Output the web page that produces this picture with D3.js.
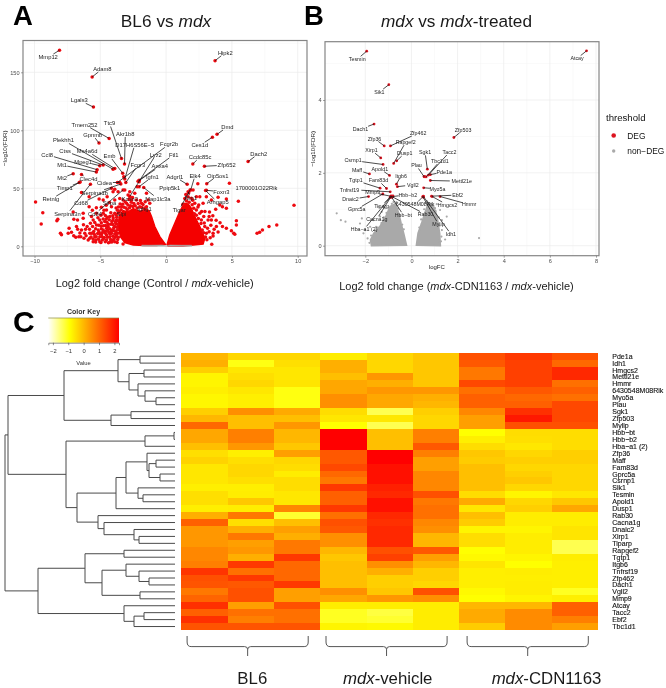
<!DOCTYPE html>
<html><head><meta charset="utf-8">
<script src="https://cdn.jsdelivr.net/npm/d3@7"></script>
<style>html,body{margin:0;padding:0;background:#fff}svg{display:block;filter:blur(0.3px)}text{font-family:"Liberation Sans",Arial,sans-serif}</style>
</head><body><div id="c"></div>
<script>
// ---------- Panel A data: [log2FC, -log10FDR]
const scatterA=[[-9.92,38.2],[-9.37,29],[-9.49,19.3],[-8.3,22.1],[-8.23,23.3],[-8.03,11.2],[-7.95,10],[-7.37,15.5],[-7.19,12.1],[-7.44,11.2],[-7.01,23.3],[-7.06,29.6],[-6.73,22.7],[-6.81,17],[-6.86,7.8],[-6.63,8.3],[-6.48,8.3],[-6.3,24.1],[-6.3,28.4],[-5.85,34.2],[-5.67,25.6],[-5.54,22.7],[-5.59,17],[-6,17],[-5.8,11.2],[-6.18,11.2],[-6.43,14.1],[-5.29,28.4],[-5.04,22.7],[-4.78,28.4],[-4.53,31.3],[-4.15,34.2],[-3.9,39.9],[-4.03,47.1],[-3.9,28.4],[-4.03,22.7],[-4.41,17],[-4.78,14.1],[-5.16,14.1],[-5.42,8.3],[-5.8,6.9],[-5.04,8.3],[-4.53,9.8],[-4.15,11.2],[-3.9,17],[-3.77,22.7],[-3.65,28.4],[-4.28,25.6],[-4.66,21.3],[-5.29,18.4],[-5.67,11.2],[-5.92,5.5],[-5.54,4],[-5.04,4],[-4.53,5.5],[-4.03,5.5],[-3.77,11.2],[-3.9,4],[-3.27,2],[-3.27,39.9],[-2.89,44.3],[-2.63,39.9],[-3.01,37.1],[-3.39,34.2],[-2.25,39.9],[-1.87,37.1],[-2.38,45.7],[-2.2,51.4],[-2.05,55.7],[-1.49,45.7],[-1.37,39.9],[-1.59,38.5],[-1.49,34.2],[-1.24,37.1],[-2.76,47.1],[-3.14,48.6],[-3.22,60],[-3.9,49.1],[-3.65,47.1],[-6.43,46.3],[-5.85,42.8],[-5.09,40.8],[-4.78,39.9],[-4.48,42.8],
[-4.9,10.5],[-4.7,7.5],[-4.3,8],[-4.1,14],[-4.35,12],[-4.2,19],[-3.85,8],[-3.95,13.5],[-4.6,13],[-4.95,17.5],[-5.2,11],[-5.35,5.5],[-5.7,8],[-4.85,5.5],[-4.25,3.8],[-4.45,25],[-4.6,18],[-4.2,29],[-4.55,23.5],[-3.8,33],[-3.5,36.5],[-3.05,33],[-2.7,35],[-2.35,35],[-2,34],[-1.75,36],[-2.55,42],[-3.7,31],
[-5.35,3.6],[-4.95,3.2],[-4.62,3.9],[-4.38,3.1],[-4.12,3.6],[-3.72,3.3],[-5.55,6.3],[-5.14,6.1],[-4.76,6.6],[-4.22,5.9],[-3.95,6.5],[-3.68,5.9],[-5.31,8.2],[-4.88,8.4],[-4.46,7.9],[-4.05,8.6],[-3.78,9.1],[-3.62,7.8],[-5.46,10.4],[-5.02,10.9],[-4.62,11.2],[-4.25,10.3],[-3.9,10.6],[-3.67,11.3],[-5.1,12.6],[-4.82,12.2],[-4.44,13.8],[-4.18,12.9],[-3.84,13],[-3.68,14.2],[-5.36,15.2],[-4.92,15.1],[-4.52,15.6],[-4.28,15.2],[-3.98,15.9],[-3.74,16.4],[-5.12,18.1],[-4.76,17.7],[-4.38,19.1],[-4.05,18.7],[-3.82,19.6],[-3.68,18.8],[-4.92,20.2],[-4.5,20.7],[-4.12,21.3],[-3.86,21.1],[-3.66,21.8],[-4.78,23.6],[-4.32,22.9],[-4.02,24.4],[-3.75,25.1],[-4.62,26.6],[-4.05,26.4],[-3.8,27.2],[-3.55,29.8],[-3.42,31.6],[-3.2,33.6],[-2.95,31.5],[-2.78,33.2],[-2.52,34.3],[-2.2,33],[-1.85,33.4],[-1.62,33],[-3.62,33.8],[-3.3,36.2],[-2.9,35.6],[-2.45,36.9],[-2.12,36.8],[-1.95,39.5],[-2.65,37.9],[-3.12,38.5],[-2.82,40.3],[-3.52,41.2],[-6.08,9.2],[-6.24,6.9],[-6.55,11.5],[-6.12,14.6],[-5.82,14.8],[-5.5,12.8],[-5.75,19.8],[-5.42,20.6],[-5.18,24.6],[-5.6,31],[-5.3,33.2],[-4.92,33.6],[-4.55,35.4],[-4.3,37.8],[-4.72,31],[-4.95,26.7],[-6.72,14.6],[-7.02,9.1],[-6.28,18.6],
[2.05,48.6],[1.67,42.8],[1.92,41.4],[2.3,42.8],[2.56,42.8],[2.41,54],[3.95,42.2],[4.81,54.3],[5.49,38.8],[4.58,40.8],[4.28,34.2],[4.08,35.6],[3.77,31.9],[4.58,32.8],[3.44,39.9],[3.06,42.8],[2.81,37.1],[2.48,35.6],[2.18,37.1],[2.56,28.4],[2.86,25.6],[3.27,25.6],[3.44,22.7],[3.19,22.7],[3.82,17],[4.28,17],[4.58,15.5],[4.96,13.5],[5.14,11.2],[5.34,22.1],[5.34,18.4],[5.22,10.3],[3.47,1.7],[3.57,8.9],[3.27,12.6],[2.94,17],[2.68,22.7],[3.06,11.2],[2.3,31.3],[2.1,32.8],[3.57,11.2],[2.75,14],[2.9,20],[3,8],[2.7,30],[2.45,24],[1.75,38],[2.15,28],
[2.3,26.7],[2.65,19.6],[2.85,11.6],[3.1,5.6],[3.15,15.6],[3.4,18.2],[2.42,33.8],[1.98,35.8],[2.02,39.6],[1.55,39.1],[1.42,41.2],[2.95,30],[3.3,29.6],[3.55,26.4],[3.8,22.5],[4.1,20.2],[3.65,14.6],[3.95,12.4],[3.35,7.4],[1.72,46.2],[1.5,44.6],[1.28,36.2],
[6.91,11.2],[7.11,12.1],[7.32,14.1],[7.82,17],[8.41,18.4],[9.72,35.3]];
const cloudLeftA=[[-0.05,1.7],[-0.48,8.3],[-0.86,17],[-1.11,25.6],[-1.29,30.7],[-1.54,32],[-2,30],[-2.5,32.5],[-2.89,29.6],[-3.27,30.7],[-3.57,25.6],[-3.62,17],[-3.47,8.3],[-3.14,3.2],[-2.5,1.1],[-1.62,0.6],[-0.73,0.6]];
const cloudRightA=[[0.08,1.7],[0.28,9.8],[0.66,19.8],[1.04,29.9],[1.37,37],[1.67,36.5],[1.92,32.8],[2.18,25.6],[2.56,17],[2.94,6.9],[2.81,2],[1.29,0.3],[0.15,0.3]];
const cloudGreyA=[[-1.85,0],[1.95,0],[1.95,0.9],[1.2,0.9],[0.3,1.1],[0,0.3],[-0.3,1.1],[-1.3,0.9],[-1.85,1]];
// name, log2FC, -log10FDR, label log2FC, label -log10FDR
const labelsA=[["Mmp12",-8.1,169,-8.96,163],["Hipk2",3.72,160,4.5,167],["Adam8",-5.62,146,-4.84,153],["Lgals3",-5.52,120,-6.6,126],["Tmem252",-4.33,93,-6.2,105],["Ttc9",-3.39,75.6,-4.3,106],["Akr1b8",-3.16,71,-3.1,97],["Gpnmb",-5.1,89,-5.57,96],["Dmd",3.87,96.5,4.66,103],["Ces1d",3.52,94,2.56,87],["Dach2",6.23,73,7.04,80],["Ccdc85c",2.03,71,2.58,77],["Zfp652",2.91,69,4.6,70],["Plekhh1",-4.03,66.4,-7.8,91.4],["D17H6S56E\u22125",-3.14,58,-2.38,87.6],["Fcgr2b",-3.7,55,0.23,88],["Fcgr3",-3.06,55,-2.15,70],["Emb",-3.3,63,-4.3,78],["Ctss",-4.78,70,-7.67,82],["Ms4a6d",-3.9,67,-6,82],["Mpeg1",-5.04,69.5,-6.3,73],["Ccl8",-5.24,66,-9.04,79],["Mt1",-5.3,64,-7.9,70],["Mt2",-7.06,62.6,-7.9,59],["Clec4d",-6.43,62,-5.9,58],["Timp1",-6.6,55,-7.7,50],["Retnlg",-6.53,55.5,-8.76,40.5],["Cidea",-3.52,55,-4.68,55],["Serpina1b",-3.44,53.7,-5.42,46],["Cd68",-4.15,50,-6.46,37],["Serpina3n",-5.75,53.5,-7.5,28],["Cd84",-3.27,48.6,-5.4,28],["Lyz2",-2.76,43,-0.78,79],["Ftl1",-2.05,57,0.58,79],["Anxa4",-2.13,56,-0.48,69],["Igfn1",-2.05,51.4,-1.04,60],["Map1lc3a",-1.7,50.6,-0.63,41],["Ppip5k1",0.28,50,0.28,50],["Adgrl1",1.6,53.4,0.66,60],["Elk4",1.87,48.6,2.2,61],["Oip5os1",3.09,54,3.92,61],["Foxn3",3.06,48.3,4.2,47],["Arhgap5",3,48,3.92,38],["Tigar",1.82,48.6,1,31.6],["Nrp1",1.67,47,1.87,41.4],["1700001O22Rik",6.86,50,6.86,50],["Kcnn3",-2.76,43,-2.76,41],["Slpi",-3.4,28,-3.4,28],["Sirpa",-4.3,37,-4.3,37],["Ighg1",-1.65,31,-1.65,32]];
const ticksAx=[-10,-5,0,5,10], ticksAy=[0,50,100,150];
// ---------- Panel B data: [logFC, -log10FDR]
const cloudLeftB=[[-0.23,0.02],[-0.35,0.34],[-0.46,0.61],[-0.56,0.89],[-0.71,1.14],[-0.92,1.07],[-1.1,0.8],[-1.36,0.52],[-1.62,0.34],[-1.76,0.16],[-1.72,0.01]];
const cloudRightB=[[0.23,0.02],[0.3,0.34],[0.45,0.61],[0.59,0.89],[0.74,1.16],[0.95,1.07],[1.1,0.8],[1.21,0.34],[1.24,0.01]];
const greyB=[[-3.24,0.89],[-3.06,0.7],[-2.86,0.66],[-2.15,0.75],[-2.23,0.61],[-2.08,0.34],[-2.01,0.43],[-1.79,0.52],[-1.53,0.52],[-1.36,0.8],[-1.43,1.07],[-1.29,0.93],[-1.14,1.03],[2.93,0.21],[1.46,0.17],[1.32,0.43],[1.53,0.8],[1.24,0.98],[1.1,1.14],[1.32,0.7],[-1.9,0.2],[-1.65,0.7],[-0.65,1.2],[-0.85,1.15],[-1.2,0.65],[1.3,0.25],[1.05,0.95],[0.85,1.15],
[-1.75,0.28],[-1.58,0.42],[-1.46,0.5],[-1.3,0.62],[-1.2,0.78],[-1.08,0.9],[-1,1.02],[-0.78,1.2],[-0.58,1.02],[-0.5,0.82],[-0.4,0.58],[-0.33,0.45],[0.34,0.5],[0.42,0.72],[0.55,1],[0.68,1.22],[1.22,0.55],[1.18,0.78],[1.02,1.03],[1.28,0.12],[-1.82,0.08]];
const labelsB=[["Tesmin",-1.94,5.34,-2.35,5.12],["Atcay",7.59,5.35,7.18,5.14],["Sik1",-0.98,4.42,-1.39,4.22],["Dach1",-1.62,3.34,-2.21,3.2],["Zfp462",-0.91,2.74,0.29,3.09],["Zfp503",1.84,2.97,2.24,3.18],["Zfp36",-1.18,2.74,-1.6,2.94],["Rapgef2",-0.77,2.26,-0.25,2.84],["Xirp1",-1.33,2.41,-1.73,2.62],["Dusp1",-0.64,2.33,-0.29,2.54],["Sgk1",0.69,2.1,0.59,2.56],["Tacc2",0.74,1.94,1.65,2.57],["Csrnp1",-1.23,2.23,-2.53,2.34],["Tbc1d1",0.64,1.89,1.23,2.32],["Plau",0.55,1.89,0.22,2.2],["Pde1a",0.82,1.95,1.42,2.03],["Maff",-1.82,1.97,-2.36,2.08],["Apold1",-0.95,1.93,-1.37,2.11],["Itgb6",-0.65,1.69,-0.45,1.92],["Mettl21e",0.82,1.79,2.18,1.77],["Tgtp1",-1.36,1.58,-2.41,1.79],["Fam83d",-1.08,1.57,-1.43,1.79],["Vgll2",-0.61,1.62,0.06,1.67],["Myo5a",0.53,1.59,1.13,1.56],["Tnfrsf19",-0.92,1.48,-2.69,1.54],["Mmp9",-0.84,1.35,-1.68,1.46],["Ebf2",0.87,1.36,2,1.39],["Hbb\u2212b2",-0.81,1.35,-0.16,1.4],["Dnaic2",-1.86,1.35,-2.64,1.27],["Hmmr",1.24,1.35,2.5,1.13],["Hmgcs2",0.9,1.35,1.56,1.12],["6430548M08Rik",0.52,1.36,0.16,1.13],["Tiparp",-0.9,1.35,-1.29,1.1],["Gprc5a",-1.24,1.42,-2.37,1],["Rab30",-0.85,1.35,0.61,0.86],["Hbb\u2212bt",-0.88,1.35,-0.35,0.84],["Cacna1g",-0.9,1.33,-1.5,0.73],["Mylip",0.49,1.35,1.17,0.59],["Idh1",0.52,1.35,1.71,0.32],["Hba\u2212a1 (2)",-0.92,1.33,-2.05,0.45]];
const extraRedB=[[-0.84,1.33],[-0.8,1.37],[-0.88,1.37],[0.55,1.9],[0.6,1.89],[0.52,1.33]];
const ticksBx=[-2,0,2,4,6,8], ticksBy=[0,2,4];
// ---------- Panel C data
const rowsC=["Pde1a","Idh1","Hmgcs2","Mettl21e","Hmmr","6430548M08Rik","Myo5a","Plau","Sgk1","Zfp503","Mylip","Hbb\u2212bt","Hbb\u2212b2","Hba\u2212a1 (2)","Zfp36","Maff","Fam83d","Gprc5a","Csrnp1","Sik1","Tesmin","Apold1","Dusp1","Rab30","Cacna1g","Dnaic2","Xirp1","Tiparp","Rapgef2","Tgtp1","Itgb6","Tnfrsf19","Zfp462","Dach1","Vgll2","Mmp9","Atcay","Tacc2","Ebf2","Tbc1d1"];
const bl6a=[0,.1,-.3,-.78,-.78,-.7,-.8,-.8,-.3,0,1,.2,.2,-.1,-.5,-.35,-.6,-.6,-.6,-.7,-.5,-.5,-.7,.1,1.1,.4,.4,.4,.6,.6,.7,1.65,1.3,1.25,.8,1.05,1.7,1.1,1.7,1.25];
const bl6b=[-.4,-1,-.6,-.5,-.4,-.6,-.7,-.7,.5,-.1,-.1,.7,.7,.4,-.7,-.5,-.4,-.4,-.5,-.7,-.68,-.2,-.68,.8,-.5,.1,.8,.3,.4,.1,1.6,.9,1.6,1.2,1.3,1.3,.3,.9,.7,1.25];
const bl6c=[-.4,-.5,-.6,-.6,-.57,-.99,-.99,-.99,.17,-.1,.4,0,0,-.2,.3,-.4,-.47,-.68,-.47,-.47,-.6,-.6,.6,-1.16,-.1,.3,.1,.8,.8,1.6,1,1,1,1.6,.3,.3,1.3,.9,.9,1.25];
const vehA=[-.68,.1,.1,-.1,.2,.2,.5,.5,-.47,-.6,-.9,2.3,2.3,2.3,1.2,1.2,1.4,1,.8,1.6,1.1,1.1,1.6,.9,1.3,1.2,.5,.5,0,-.2,-.1,-.1,-.1,-.1,.5,.2,-.68,-1.08,-1.08,-.78];
const vehB=[-.4,-.4,-.4,.4,.1,.4,.2,.2,-1.34,-.6,-1.34,-.1,-.1,-.1,2.3,2.3,2.1,2.1,2.1,1.9,1.8,2.1,2.1,1.8,1.7,1.8,1.8,1.8,1.3,1.5,.5,.1,-.3,-.3,-.2,.4,-.68,-1.25,-1.16,-.82];
const vehC=[-.2,-.2,-.2,-.2,-.2,.4,.1,0,-.3,-.4,-.4,.7,.7,1.2,.7,.3,.3,.6,.6,.6,1.3,.8,.9,.9,.6,.5,0,0,1.2,.3,0,-.3,-.3,-.4,1.3,.5,-.68,-.68,-.68,-.68];
const cdnA=[1.3,1.2,.8,.8,1.4,.9,1.1,1.1,.6,.3,.3,-.9,-.7,-.47,-.2,-.26,-.1,-.1,-.1,-.1,-.47,.17,-.6,-.1,-.26,-.78,-.47,-.47,-.9,-.82,-.57,-.7,-.7,-.7,-.82,-.9,0,.17,.17,-.26];
const cdnB=[1.6,1.5,1.5,1.5,1.5,1.2,1,1.1,1.7,2,1.3,-.47,-.5,-.6,-.4,-.3,-.4,-.3,-.2,-.4,-.78,-.4,-.3,-.68,-.68,-.78,-.68,-.68,-.68,-.78,-.9,-.68,-.7,-.68,-.68,-.78,0,.55,.55,.55];
const cdnC=[1.3,1,1.8,1.8,.9,1.1,.9,1.4,1.4,1.4,1.3,-.47,-.47,-.47,-.3,-.3,-.4,-.4,-.4,-.4,-.6,-.2,.2,-.68,-.68,-.57,-.57,-1.34,-1.34,-.68,-.7,-.7,-.7,-.7,-1.08,-.7,1.1,1.1,.7,.3];
const columnsC=[bl6a,bl6b,bl6c,vehA,vehB,vehC,cdnA,cdnB,cdnC];
const keyTicks=[-2,-1,0,1,2];
const groupsC=[{first:0,last:2},{first:3,last:5},{first:6,last:8}];
// row dendrogram: [height, left, right], leaves are 1-based row numbers
const dendro=[170,
 [167,
  [111,
   [57,[35,1,2],[46,[31,3,4],[37,5,[30,6,[19,7,8]]]]],
   [64,[44,9,10],11]],
  [109,
   [30,[1,12,13],14],
   [98,
    [59,[49,[28,15,[26,[19,16,17],[15,18,19]]],[37,20,[32,21,22]]],23],
    [77,24,[71,25,[41,26,[36,27,28]]]]]]],
 [137,
  [90,[51,29,30],[73,[49,31,[36,32,[26,33,34]]],[35,35,36]]],
  [51,37,[41,[31,38,39],40]]]];

// ---------- drawing
const W=666,H=688;
const fmtInt=d3.format("d");
const svg=d3.select("#c").append("svg").attr("width",W).attr("height",H).attr("viewBox",[0,0,W,H]);
function panelLetter(t,x,y,fs){svg.append("text").attr("x",x).attr("y",y).attr("font-size",fs).attr("font-weight","bold").attr("fill","#000").text(t);}
function rich(parts,x,y,size,anchor){
  const t=svg.append("text").attr("x",x).attr("y",y).attr("font-size",size).attr("text-anchor",anchor||"middle").attr("fill","#1a1a1a");
  parts.forEach(p=>t.append("tspan").attr("font-style",p[1]?"italic":"normal").text(p[0]));return t;
}
panelLetter("A",13,25,27.5);panelLetter("B",304,25,27.5);panelLetter("C",13,332,30);

function volcano(o){
  const g=svg.append("g");
  const {x,y,frame}=o;
  const clipId="clip"+o.id;
  g.append("clipPath").attr("id",clipId).append("rect").attr("x",frame.l).attr("y",frame.t).attr("width",frame.r-frame.l).attr("height",frame.b-frame.t);
  const grid=g.append("g");
  const minor=(t)=>t.slice(0,-1).map((v,i)=>(v+t[i+1])/2);
  minor(o.tx).forEach(v=>grid.append("line").attr("x1",x(v)).attr("x2",x(v)).attr("y1",frame.t).attr("y2",frame.b).attr("stroke","#f4f4f4").attr("stroke-width",.5));
  minor(o.ty.concat([o.ty[o.ty.length-1]+o.ty[1]-o.ty[0]])).forEach(v=>{if(y(v)>frame.t)grid.append("line").attr("y1",y(v)).attr("y2",y(v)).attr("x1",frame.l).attr("x2",frame.r).attr("stroke","#f4f4f4").attr("stroke-width",.5);});
  o.tx.forEach(v=>grid.append("line").attr("x1",x(v)).attr("x2",x(v)).attr("y1",frame.t).attr("y2",frame.b).attr("stroke","#ebebeb").attr("stroke-width",.7));
  o.ty.forEach(v=>grid.append("line").attr("y1",y(v)).attr("y2",y(v)).attr("x1",frame.l).attr("x2",frame.r).attr("stroke","#ebebeb").attr("stroke-width",.7));
  const marks=g.append("g").attr("clip-path",`url(#${clipId})`);
  const line=d3.line().x(d=>x(d[0])).y(d=>y(d[1])).curve(d3.curveLinearClosed);
  o.polys.forEach(p=>marks.append("path").attr("d",line(p.pts)).attr("fill",p.c).attr("stroke",p.c).attr("stroke-width",p.sw));
  marks.selectAll("circle.g").data(o.grey||[]).join("circle").attr("class","g").attr("cx",d=>x(d[0])).attr("cy",d=>y(d[1])).attr("r",o.rg).attr("fill","#a9a9a9");
  marks.selectAll("circle.r").data(o.red).join("circle").attr("class","r").attr("cx",d=>x(d[0])).attr("cy",d=>y(d[1])).attr("r",o.r).attr("fill",o.col);
  const pts=o.labels.filter(d=>d[1]!==d[3]||d[2]!==d[4]);
  marks.selectAll("circle.l").data(pts).join("circle").attr("class","l").attr("cx",d=>x(d[1])).attr("cy",d=>y(d[2])).attr("r",o.r).attr("fill",o.col);
  const seg=d=>{
    const px=x(d[1]),py=y(d[2]),tx=x(d[3]),ty=y(d[4]);
    const hw=d[0].length*o.fs*.27+.5,hh=o.fs*.55;
    const dx=px-tx,dy=py-ty;
    const s=Math.min(Math.abs(dx)>1e-6?hw/Math.abs(dx):9,Math.abs(dy)>1e-6?hh/Math.abs(dy):9);
    return {x1:px,y1:py,x2:tx+dx*s,y2:ty+dy*s,s};
  };
  g.selectAll("line.seg").data(pts.filter(d=>seg(d).s<1)).join("line").attr("class","seg").attr("x1",d=>seg(d).x1).attr("y1",d=>seg(d).y1).attr("x2",d=>seg(d).x2).attr("y2",d=>seg(d).y2).attr("stroke","#111").attr("stroke-width",.75);
  g.selectAll("text.lab").data(o.labels).join("text").attr("class","lab").attr("x",d=>x(d[3])).attr("y",d=>y(d[4])+o.fs*.36).attr("text-anchor","middle").attr("font-size",o.fs).attr("fill","#222").text(d=>d[0]);
  // frame
  g.append("rect").attr("x",frame.l).attr("y",frame.t).attr("width",frame.r-frame.l).attr("height",frame.b-frame.t).attr("fill","none").attr("stroke","#858585").attr("stroke-width",1.2);
  // axes (through d3-axis)
  const ax=g.append("g").attr("transform",`translate(0,${frame.b})`).call(d3.axisBottom(x).tickValues(o.tx).tickFormat(fmtInt).tickSize(2).tickPadding(1.5));
  const ay=g.append("g").attr("transform",`translate(${frame.l},0)`).call(d3.axisLeft(y).tickValues(o.ty).tickFormat(fmtInt).tickSize(2).tickPadding(1.5));
  [ax,ay].forEach(a=>{a.select(".domain").remove();a.selectAll("line").attr("stroke","#666").attr("stroke-width",.6);a.selectAll("text").attr("fill","#4d4d4d").attr("font-size",5.6).attr("font-family","Liberation Sans");});
  g.append("text").attr("transform",`translate(${o.ylabx},${(frame.t+frame.b)/2}) rotate(-90)`).attr("text-anchor","middle").attr("font-size",6.2).attr("fill","#222").text("\u2212log10(FDR)");
}

const xA=d3.scaleLinear().domain([-10,10]).range([34.5,297.7]);
const yA=d3.scaleLinear().domain([0,150]).range([246.3,72.3]);
volcano({id:"A",x:xA,y:yA,frame:{l:23,r:307,t:40.5,b:256},tx:ticksAx,ty:ticksAy,ylabx:7,
  polys:[{pts:cloudLeftA,c:"#f40000",sw:1.5},{pts:cloudRightA,c:"#f40000",sw:1.5},{pts:cloudGreyA,c:"#a9a9a9",sw:.5}],
  red:scatterA,r:1.75,rg:1,col:"#ee0a10",labels:labelsA,fs:5.8});
const xB=d3.scaleLinear().domain([-2,8]).range([365.3,596]);
const yB=d3.scaleLinear().domain([0,4]).range([245.7,100]);
volcano({id:"B",x:xB,y:yB,frame:{l:325,r:599,t:41.7,b:255.7},tx:ticksBx,ty:ticksBy,ylabx:315,
  polys:[{pts:cloudLeftB,c:"#a9a9a9",sw:2.2},{pts:cloudRightB,c:"#a9a9a9",sw:2.2}],
  grey:greyB,rg:1.1,red:extraRedB,r:1.4,col:"#dc1420",labels:labelsB,fs:5.3});
svg.append("text").attr("x",xB(1.1)).attr("y",269).attr("text-anchor","middle").attr("font-size",6).attr("fill","#222").text("logFC");

rich([["BL6 vs "],["mdx",1]],166,27,17.3);
rich([["mdx",1],[" vs "],["mdx",1],["-treated"]],456.5,27,17.2);
rich([["Log2 fold change (Control / "],["mdx",1],["-vehicle)"]],154.7,287,11);
rich([["Log2 fold change ("],["mdx",1],["-CDN1163 / "],["mdx",1],["-vehicle)"]],456.5,290,11);

// legend
svg.append("text").attr("x",606).attr("y",121).attr("font-size",9.6).attr("fill","#111").text("threshold");
[["DEG","#dc1420",135.5,2.3],["non\u2212DEG","#a9a9a9",151,1.7]].forEach(d=>{
  svg.append("circle").attr("cx",613.7).attr("cy",d[2]).attr("r",d[3]).attr("fill",d[1]);
  svg.append("text").attr("x",627.3).attr("y",d[2]+3).attr("font-size",8.4).attr("fill","#111").text(d[0]);
});

// heatmap
const colIdx=d3.range(columnsC.length);
const hx=d3.scaleBand().domain(colIdx).range([181.3,598]);
const hy=d3.scaleBand().domain(d3.range(rowsC.length)).range([352.7,630]);
const heat=d3.scaleLinear().domain([-2.3,-0.9,2.3]).range(["#ffffff","#ffff00","#ff0000"]);
const cells=[];columnsC.forEach((c,j)=>c.forEach((v,i)=>cells.push({i,j,v})));
svg.append("g").attr("shape-rendering","crispEdges").selectAll("rect").data(cells).join("rect")
  .attr("x",d=>hx(d.j)).attr("y",d=>hy(d.i)).attr("width",hx.bandwidth()+.3).attr("height",hy.bandwidth()+.3).attr("fill",d=>heat(d.v));
svg.append("g").selectAll("text").data(rowsC).join("text").attr("x",612.3).attr("y",(d,i)=>hy(i)+hy.bandwidth()/2+2.5).attr("font-size",7).attr("fill","#111").attr("stroke","#111").attr("stroke-width",.12).text(d=>d);

// dendrogram
const hX=d3.scaleLinear().domain([0,170]).range([175,5]);
const root=d3.hierarchy(dendro,d=>Array.isArray(d)?d.slice(1):null);
root.eachAfter(n=>{
  if(n.children){n.py=d3.mean(n.children,c=>c.py);n.px=hX(n.data[0]);}
  else{n.py=hy(n.data-1)+hy.bandwidth()/2;n.px=hX(0);}
});
svg.append("g").selectAll("path").data(root.descendants().filter(n=>n.children)).join("path")
  .attr("fill","none").attr("stroke","#4a4a4a").attr("stroke-width",1)
  .attr("d",n=>`M${n.children[0].px},${n.children[0].py}H${n.px}V${n.children[1].py}H${n.children[1].px}`);

// color key
const kx=d3.scaleLinear().domain([-2.3,2.3]).range([48.3,119]);
const grad=svg.append("defs").append("linearGradient").attr("id","kg");
[-2.3,-0.9,2.3].forEach(v=>grad.append("stop").attr("offset",(v+2.3)/4.6).attr("stop-color",heat(v)));
svg.append("rect").attr("x",kx(-2.3)).attr("y",318).attr("width",kx(2.3)-kx(-2.3)).attr("height",24.7).attr("fill","url(#kg)");
svg.append("line").attr("x1",kx(-2.3)).attr("x2",kx(2.3)).attr("y1",318).attr("y2",318).attr("stroke","#8a8a40").attr("stroke-width",.7);
const ka=svg.append("g").attr("transform","translate(0,342.7)").call(d3.axisBottom(kx).tickValues(keyTicks).tickFormat(fmtInt).tickSize(2.5).tickPadding(4));
ka.select(".domain").attr("stroke","#444").attr("stroke-width",.6);
ka.selectAll("line").attr("stroke","#444").attr("stroke-width",.6);
ka.selectAll("text").attr("font-size",5.8).attr("fill","#333").attr("font-family","Liberation Sans");
svg.append("text").attr("x",83.5).attr("y",365).attr("text-anchor","middle").attr("font-size",5.8).attr("fill","#333").text("Value");
svg.append("text").attr("x",83.5).attr("y",314).attr("text-anchor","middle").attr("font-size",7).attr("font-weight","bold").attr("fill","#333").text("Color Key");

// brackets and group names
groupsC.forEach((g,k)=>{
  const x0=hx(g.first)+(k==2?8:5.8),x1=hx(g.last)+hx.bandwidth()-(k==2?9.7:12),c=(x0+x1)/2;
  svg.append("path").attr("fill","none").attr("stroke","#555").attr("stroke-width",1)
    .attr("d",`M${x0},636v6q0,4.6 4,4.6H${c-3}q3,0 3,3V656M${c},649.6q0,-3 3,-3H${x1-4}q4,0 4,-4.6v-6`);
});
rich([["BL6"]],252.3,684,16.8);
rich([["mdx",1],["-vehicle"]],387.7,684,16.8);
rich([["mdx",1],["-CDN1163"]],546.5,684,16.8);
</script></body></html>
